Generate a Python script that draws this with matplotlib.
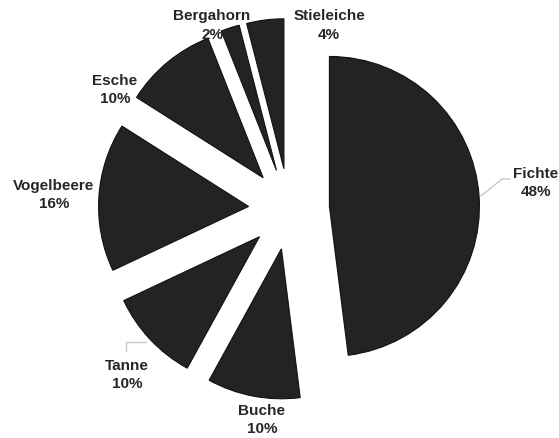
import matplotlib.pyplot as plt

# Baumarten share (percent)
species = ['Fichte', 'Buche', 'Tanne', 'Vogelbeere', 'Esche', 'Bergahorn', 'Stieleiche']
shares = [48, 10, 10, 16, 10, 2, 4]

# label anchor points (data units, pie radius = 1)
label_pos = [(1.647, 0.18), (-0.18, -1.40), (-1.08, -1.10), (-1.567, 0.10),
             (-1.16, 0.80), (-0.513, 1.227), (0.267, 1.227)]

plt.rcParams['font.family'] = ['Liberation Sans', 'DejaVu Sans']

fig = plt.figure(figsize=(5.59, 4.39), dpi=100)
ax = fig.add_axes([0, 0, 1, 1])

# every slice pulled out by the same amount
ax.pie(shares, startangle=90, counterclock=False, radius=1.0,
       explode=[0.27] * len(shares), colors=['#232323'] * len(shares),
       wedgeprops=dict(edgecolor='#111111', linewidth=0.8))

for name, val, (x, y) in zip(species, shares, label_pos):
    ax.text(x, y, f'{name}\n{val}%', ha='center', va='center', fontsize=11,
            fontweight='bold', color='#262626', linespacing=1.45)

# leader lines (light grey, Excel style)
ax.plot([1.28, 1.42, 1.473], [0.087, 0.2, 0.2], color='#c8c8c8', lw=1)
ax.plot([-0.953, -1.087, -1.087], [-0.887, -0.887, -0.947], color='#c8c8c8', lw=1)

# 150 px per unit, pie centre at pixel (289, 210)
ax.set_xlim(-289 / 150, (559 - 289) / 150)
ax.set_ylim(-(439 - 210) / 150, 210 / 150)
ax.set_aspect('auto')
ax.axis('off')

fig.savefig('out.png', dpi=100)
